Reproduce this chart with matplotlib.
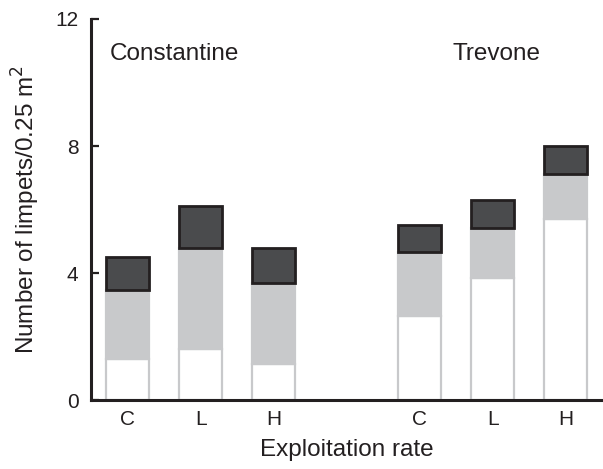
import matplotlib.pyplot as plt
import numpy as np

plt.rcParams['font.family'] = ['Liberation Sans', 'DejaVu Sans']

# cumulative tops of each segment
sites = ['Constantine', 'Trevone']
rates = ['C', 'L', 'H', 'C', 'L', 'H']
white_top = [1.30, 1.62, 1.15, 2.65, 3.84, 5.70]
grey_top = [3.46, 4.79, 3.69, 4.66, 5.43, 7.12]
dark_top = [4.50, 6.10, 4.79, 5.50, 6.31, 8.00]

pos = np.array([0, 1, 2, 4, 5, 6])
white = np.array(white_top)
grey = np.array(grey_top) - white
dark = np.array(dark_top) - np.array(grey_top)

fig = plt.figure(figsize=(6.03, 4.69), dpi=100)
ax = fig.add_axes([0.151, 0.147, 0.849, 0.8125])

w = 0.59
ax.bar(pos, white, w, color='white', edgecolor='#c8c9cb', linewidth=1.6, zorder=2)
ax.bar(pos, grey, w, bottom=white, color='#c8c9cb', edgecolor='#c8c9cb', linewidth=1.6, zorder=2)
ax.bar(pos, dark, w, bottom=np.array(grey_top), color='#4a4b4d', edgecolor='#231f20', linewidth=2.0, zorder=3)

ax.set_xlim(-0.5, 6.51)
ax.set_ylim(0, 12)
ax.set_yticks([0, 4, 8, 12])
ax.set_xticks(pos)
ax.set_xticklabels(rates)
ax.tick_params(axis='y', direction='in', length=6, width=1.6, pad=9, labelsize=15, color='#231f20', labelcolor='#231f20')
ax.tick_params(axis='x', length=0, pad=7, labelsize=15, labelcolor='#231f20')

for s in ['top', 'right']:
    ax.spines[s].set_visible(False)
for s in ['left', 'bottom']:
    ax.spines[s].set_linewidth(2.2)
    ax.spines[s].set_color('#231f20')

ax.text(-0.24, 10.7, sites[0], fontsize=17.5, ha='left', va='baseline', color='#231f20')
ax.text(5.05, 10.7, sites[1], fontsize=17.5, ha='center', va='baseline', color='#231f20')

ax.set_ylabel('Number of limpets/0.25 m$^2$', fontsize=17.5, labelpad=9.5, color='#231f20')
ax.set_xlabel('Exploitation rate', fontsize=17.5, labelpad=7, color='#231f20')

fig.savefig('out.png', dpi=100)
